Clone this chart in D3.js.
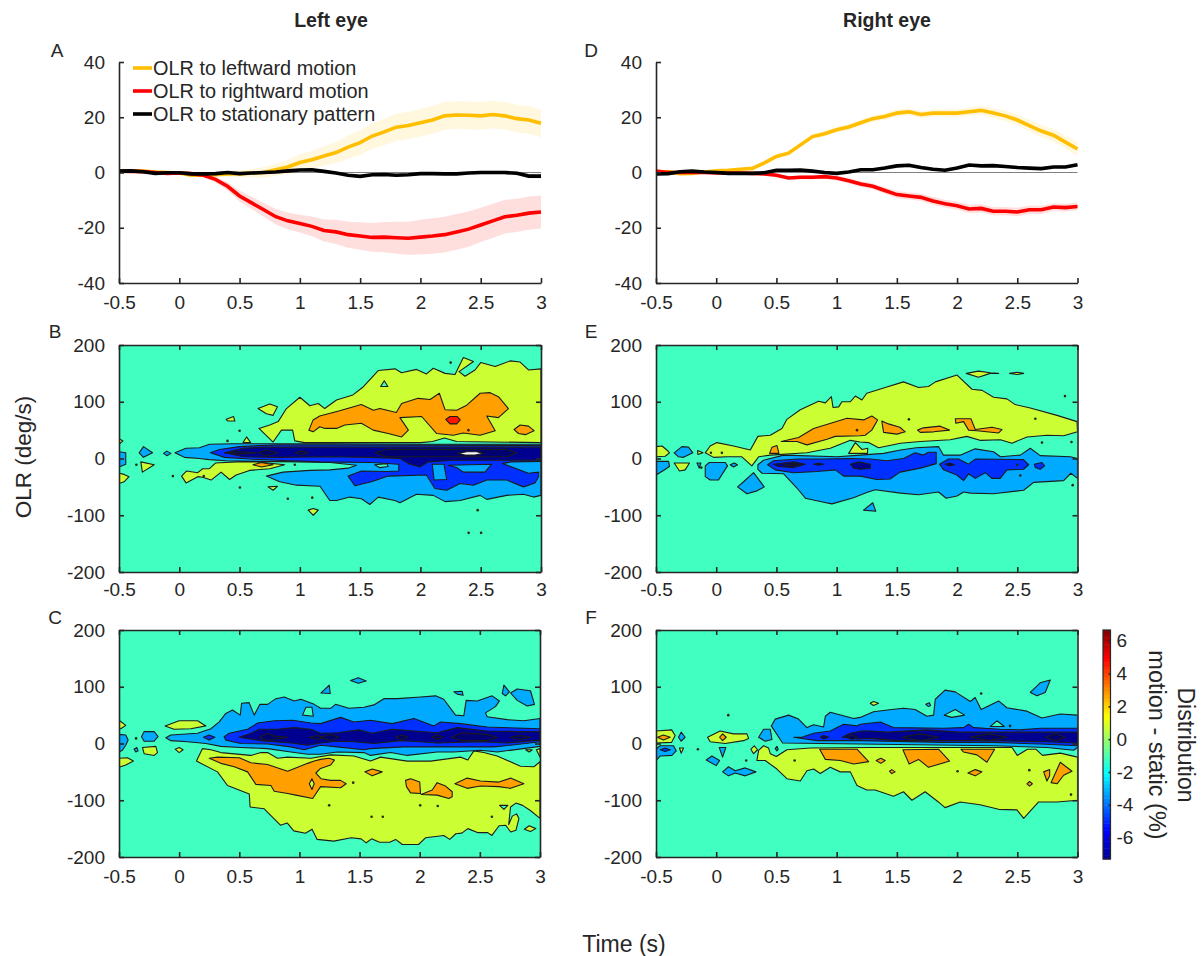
<!DOCTYPE html>
<html>
<head>
<meta charset="utf-8">
<title>OLR distribution</title>
<script src="https://cdn.jsdelivr.net/npm/d3@7"></script>
<style>
  html, body { margin: 0; background: #fff; }
  text { font-family: "Liberation Sans", Arial, sans-serif; fill: #262626; }
</style>
</head>
<body>
<svg id="chart" width="1203" height="956"></svg>
<script>
/* ---------- OLR time courses (panels A and D), sampled every 0.1 s ---------- */
const times = [-0.5,-0.4,-0.3,-0.2,-0.1,0,0.1,0.2,0.3,0.4,0.5,0.6,0.7,0.8,0.9,1,1.1,1.2,1.3,1.4,1.5,1.6,1.7,1.8,1.9,2,2.1,2.2,2.3,2.4,2.5,2.6,2.7,2.8,2.9,3];

const aLeftward = [0.5,0.5,0.5,0.2,0,-0.2,-1,-1,-0.8,-0.5,-0.5,-0.2,0,1,2,3.6,4.6,6,7.2,9.2,10.8,13.2,14.7,16.4,17,18,19,20.5,20.8,20.7,20.5,21,20.5,19.5,19,17.8];
const aLeftwardErr = [0.3,0.3,0.3,0.3,0.3,0.3,0.4,0.6,0.8,1,1.2,1.5,2,2.2,2.5,3,3.2,3.5,3.8,4.2,4.5,4.6,4.8,4.9,5,5,5,5,5,5,5,5,5,5,5,5];
const aRightward = [0.5,0.4,0.3,0,-0.3,-0.2,-0.4,-1,-2.5,-5,-8.5,-11,-13.5,-16,-17.5,-18.5,-19.5,-21,-21.5,-22.5,-23,-23.5,-23.4,-23.6,-23.8,-23.4,-23,-22.5,-21.5,-20.5,-19,-17.5,-16,-15.5,-14.7,-14.3];
const aRightwardErr = [0.2,0.2,0.2,0.2,0.2,0.3,0.4,0.6,1,1.5,2,2.2,2.5,2.8,3,3.2,3.6,4,4.4,4.7,5,5.2,5.5,5.8,6,6.3,6.4,6.5,6.5,6.4,6.2,6.2,6.1,6,6,6];
const aStatic = [0.5,0.6,0.3,-0.3,-0.1,-0.1,-0.5,-0.5,-0.4,0,-0.4,-0.2,0,0.2,0.6,0.9,1,0.4,-0.2,-1,-1.4,-0.8,-0.7,-1,-0.8,-0.4,-0.4,-0.5,-0.5,-0.2,0,0,0,-0.3,-1.3,-1.3];
const aStaticErr = [0.2,0.2,0.2,0.2,0.2,0.2,0.2,0.2,0.3,0.3,0.3,0.3,0.3,0.3,0.3,0.4,0.4,0.4,0.4,0.4,0.5,0.5,0.5,0.5,0.5,0.5,0.5,0.5,0.5,0.5,0.6,0.6,0.6,0.7,0.8,0.9];

const dLeftward = [0,0.3,-0.4,-0.3,0.2,0.6,0.8,1.2,1.5,3.5,5.8,7,10,13,14,15.5,16.5,18,19.5,20.3,21.5,22,21,21.5,21.5,21.5,22,22.5,21.5,20.5,19,17,15,13.5,11,8.5];
const dLeftwardErr = [0.3,0.3,0.3,0.3,0.3,0.3,0.4,0.4,0.5,0.6,0.7,0.8,0.9,1,1,1,1.1,1.1,1.2,1.2,1.3,1.3,1.3,1.3,1.4,1.4,1.5,1.7,1.8,1.9,2,2.1,2.2,2.3,2.4,2.5];
const dRightward = [0.5,0,0,0,0,-0.2,-0.2,-0.2,-0.3,-0.5,-1,-2,-1.7,-1.7,-1.5,-2,-3,-4.2,-5,-6.5,-8,-8.5,-9,-10.3,-11.3,-12,-13.2,-13,-14,-14,-14.3,-13.5,-13.5,-12.5,-12.7,-12.3];
const dRightwardErr = [0.3,0.3,0.3,0.3,0.3,0.3,0.3,0.3,0.3,0.4,0.5,0.6,0.7,0.8,0.8,0.9,1,1,1.1,1.2,1.3,1.3,1.3,1.4,1.4,1.5,1.5,1.5,1.5,1.5,1.5,1.5,1.5,1.4,1.4,1.4];
const dStatic = [-0.5,-0.4,0.3,0.5,0.2,0,-0.3,-0.3,-0.3,-0.1,0.8,0.8,0.9,0.5,0,-0.3,0.2,1,1,1.6,2.4,2.6,1.8,1.2,0.8,1.6,2.7,2.4,2.5,2.2,1.8,1.6,1.4,2,2,2.8];
const dStaticErr = [0.2,0.2,0.2,0.2,0.2,0.2,0.2,0.2,0.2,0.3,0.3,0.3,0.3,0.3,0.4,0.4,0.4,0.5,0.5,0.6,0.7,0.7,0.6,0.6,0.6,0.5,0.5,0.5,0.5,0.5,0.5,0.5,0.5,0.5,0.5,0.5];

const legendLabels = ["OLR to leftward motion", "OLR to rightward motion", "OLR to stationary pattern"];

/* ---------- axis ticks ---------- */
const timeTicks = [-0.5,0,0.5,1,1.5,2,2.5,3];
const lineTicks = [-40,-20,0,20,40];
const olrTicks = [-200,-100,0,100,200];
const barTicks = [-6,-4,-2,0,2,4,6];

/* ---------- contour outlines, [time, OLR] ---------- */

// panel B
const bLight = [[-0.036,10],[0.056,18],[0.167,19],[0.25,25],[0.444,26],[1.25,26],[2.0,25],[3,25],[3,-65],[2.938,-68],[2.855,-63],[2.716,-65],[2.55,-72],[2.495,-65],[2.329,-74],[2.204,-76],[2.107,-65],[1.968,-63],[1.83,-78],[1.788,-74],[1.65,-68],[1.58,-81],[1.511,-71],[1.414,-68],[1.304,-74],[1.248,-74],[1.167,-49],[0.972,-47],[0.833,-41],[0.722,-31],[0.861,-24],[1.083,-21],[1.25,-20],[1.4,-17],[1.47,-12],[1.25,-7],[1.0,-6],[0.6,-5],[0.389,-4],[0.25,-2],[0.167,0],[0.042,2]];
const bBlue = [[0.258,10],[0.333,16],[0.5,21],[0.806,24],[1.25,24],[3,23],[3,-5],[2.75,-6],[2.68,-9],[2.896,-26],[2.98,-24],[2.98,-32],[2.95,-43],[2.855,-50],[2.716,-38],[2.55,-38],[2.44,-47],[2.329,-44],[2.218,-56],[2.12,-53],[2.05,-29],[1.733,-31],[1.594,-41],[1.456,-48],[1.4,-31],[1.511,-22],[1.72,-23],[1.82,-22],[1.82,-10],[1.6,-7],[1.165,-6],[0.806,-3],[0.583,-1],[0.375,2]];
const bHole1 = [[2.098,-10],[2.195,-10],[2.218,-37],[2.113,-38]];
const bHole2 = [[2.23,-12],[2.59,-10],[2.536,-24],[2.356,-24],[2.3,-16]];
const bHole3 = [[1.62,-11],[1.72,-9],[1.733,-14],[1.66,-16]];
const bNavy = [[0.375,10],[0.528,18],[0.722,20],[1.25,20],[3,20],[3,-3],[2.273,-3],[2.065,-6],[1.996,-15],[1.9,-9],[1.83,0],[1.58,2],[1.25,3],[0.806,2],[0.528,3]];
const bDark1 = [[1.622,10],[1.72,16],[2.716,16],[2.8,10],[2.716,3],[1.72,3]];
const bDark2 = [[0.653,10],[0.722,15],[0.819,10],[0.722,5]];
const bDark3 = [[0.958,10],[1.014,13],[1.069,10],[1.014,7]];
const bDark4 = [[0.375,10],[0.5,12],[0.639,10],[0.5,8]];
const bWhite = [[2.309,9],[2.384,12],[2.467,12],[2.522,9],[2.453,6],[2.37,6]];
const bYellowUp = [[0.661,53],[0.75,59],[0.82,65],[0.889,88],[1,108],[1.083,93],[1.153,97],[1.206,88],[1.304,103],[1.44,112],[1.525,126],[1.65,155],[1.79,158],[1.843,151],[1.968,157],[2.05,149],[2.107,159],[2.204,150],[2.287,148],[2.356,178],[2.44,171],[2.32,153],[2.37,145],[2.453,156],[2.5,169],[2.62,162],[2.744,172],[2.827,170],[2.896,156],[3,158],[3,28],[2.3,30],[2.2,36],[2.1,30],[2.0,28],[1.04,28],[0.958,31],[0.94,50],[0.847,50],[0.778,29]];
const bTealIsle = [[1.7,137],[1.73,127],[1.67,127]];
const bOrange = [[1.075,50],[1.11,68],[1.165,75],[1.33,84],[1.51,95],[1.61,85],[1.664,88],[1.8,81],[1.844,97],[1.98,106],[2.08,104],[2.157,115],[2.204,86],[2.3,85],[2.384,94],[2.495,115],[2.578,116],[2.647,109],[2.73,88],[2.647,72],[2.55,75],[2.62,49],[2.495,41],[2.356,45],[2.273,41],[2.135,44],[2.01,74],[1.83,72],[1.9,50],[1.844,38],[1.733,44],[1.608,50],[1.51,62],[1.373,59],[1.304,53],[1.207,53],[1.165,56],[1.11,47]];
const bRed = [[2.21,69],[2.245,74],[2.306,74],[2.33,68],[2.3,61],[2.245,61]];
const bOrange2 = [[2.777,51],[2.827,59],[2.896,57],[2.943,49],[2.87,42],[2.813,44]];
const bYellow1 = [[0.653,88],[0.75,96],[0.814,91],[0.778,76],[0.722,79]];
const bYellow2 = [[0.389,69],[0.45,74],[0.461,66],[0.403,66]];
const bYellow3 = [[0.528,28],[0.558,38],[0.592,28]];
const bYellow4 = [[-0.5,35],[-0.467,31],[-0.5,25]];
const bYellow5 = [[-0.5,-26],[-0.458,-28],[-0.417,-32],[-0.458,-41],[-0.5,-44]];
const bLight2 = [[-0.5,12],[-0.444,10],[-0.444,-10],[-0.5,-15]];
const bLight3 = [[-0.333,10],[-0.297,21],[-0.222,10],[-0.297,2]];
const bYellow6 = [[-0.319,-6],[-0.208,-11],[-0.306,-24]];
const bLight4 = [[-0.131,9],[-0.103,13],[-0.069,9],[-0.103,5]];
const bTongue = [[0.019,-31],[0.061,-22],[0.153,-25],[0.194,-18],[0.25,-18],[0.3,-8],[0.472,-6],[0.639,-6],[0.875,-11],[0.75,-18],[0.583,-21],[0.472,-29],[0.417,-37],[0.347,-24],[0.264,-38],[0.194,-33],[0.153,-32],[0.056,-43]];
const bTongueSpot = [[0.611,-11],[0.681,-7],[0.778,-11],[0.681,-15]];
const bYellow7 = [[0.736,-50],[0.814,-49],[0.778,-56]];
const bYellow8 = [[1.069,-91],[1.111,-88],[1.153,-91],[1.111,-100]];
const bSpecks = [[2.398,50],[0.5,49],[0.4,31],[-0.356,-11],[-0.053,-31],[0.203,-31],[0.503,-51],[0.9,-71],[1.103,-69],[2.251,169],[2.475,-91],[2.503,-131],[2.4,-131],[0.958,-11]];
const panelB = [[-1,bLight],[-2,bBlue],[-1,bHole1],[-1,bHole2],[0,bHole3],[-3,bNavy],[-4,bDark1],[-4,bDark2],[-4,bDark3],[-4,bDark4],[9,bWhite],
  [1,bYellowUp],[0,bTealIsle],[2,bOrange],[3,bRed],[2,bOrange2],[1,bYellow1],[1,bYellow2],[1,bYellow3],[1,bYellow4],[1,bYellow5],[-1,bLight2],[-1,bLight3],[1,bYellow6],[-1,bLight4],[1,bTongue],[2,bTongueSpot],[1,bYellow7],[1,bYellow8]];

// panel E
const eYellow = [[-0.091,10],[-0.05,22],[0.006,28],[0.144,22],[0.283,15],[0.346,39],[0.449,41],[0.546,53],[0.587,69],[0.698,86],[0.85,101],[0.906,98],[0.956,109],[0.97,90],[1.017,91],[1.044,100],[1.114,100],[1.155,110],[1.21,103],[1.25,115],[1.417,126],[1.555,135],[1.68,125],[1.763,127],[1.82,135],[2,147],[2.124,122],[2.208,120],[2.303,108],[2.414,105],[2.483,95],[2.608,89],[2.83,76],[2.996,65],[3,47],[2.885,40],[2.747,41],[2.58,38],[2.456,27],[2.36,33],[2.19,32],[2.08,39],[1.943,33],[1.694,30],[1.53,27],[1.348,19],[1.265,28],[1.195,29],[1.114,32],[0.947,18],[0.753,10],[0.449,6],[0.352,3],[0.296,-13],[0.213,3],[0.089,3],[-0.022,2]];
const eTriangle = [[1.1,9],[1.155,28],[1.21,16],[1.258,18],[1.256,9]];
const eYellowL = [[-0.5,21],[-0.45,22],[-0.41,15],[-0.388,10],[-0.424,4],[-0.5,3]];
const eDiamond = [[-0.349,10],[-0.285,21],[-0.23,20],[-0.194,10],[-0.271,2],[-0.313,3]];
const eYellowS = [[-0.155,14],[-0.11,10],[-0.152,7]];
const eOrangeS = [[0.443,9],[0.463,20],[0.504,23],[0.521,9]];
const eOrange1 = [[0.54,30],[0.684,37],[0.809,53],[1.086,71],[1.224,68],[1.292,75],[1.34,68],[1.292,50],[1.237,41],[1.195,40],[0.989,39],[0.92,34],[0.753,24],[0.67,30]];
const eOrange2 = [[1.375,66],[1.43,61],[1.525,55],[1.57,47],[1.5,43],[1.39,46]];
const eOrange3 = [[1.672,50],[1.72,54],[1.86,57],[1.938,50],[1.805,47],[1.694,46]];
const eOrange4 = [[1.985,70],[2.115,70],[2.151,51],[2.29,55],[2.373,51],[2.345,45],[2.165,49],[2.096,50],[2.054,65],[1.99,62]];
const eTop1 = [[2.076,150],[2.178,154],[2.275,151],[2.345,150],[2.275,150],[2.178,143]];
const eTop2 = [[2.436,150],[2.5,152],[2.553,150],[2.5,148]];
const eLeftBlue = [[-0.5,-5],[-0.395,-5],[-0.388,-14],[-0.438,-21],[-0.5,-29]];
const eYellowB = [[-0.349,-8],[-0.222,-8],[-0.258,-20],[-0.305,-22]];
const eBlueS = [[-0.16,-8],[-0.127,-8],[-0.141,-17]];
const eBlob1 = [[-0.091,-13],[-0.058,-7],[0.075,-7],[0.094,-13],[0.019,-38],[-0.05,-38],[-0.091,-32]];
const eBlob2 = [[0.116,-11],[0.15,-8],[0.177,-11],[0.144,-15]];
const eBlob3 = [[0.177,-50],[0.227,-41],[0.31,-25],[0.399,-50],[0.338,-57],[0.255,-62]];
const eLight = [[0.346,-11],[0.393,-3],[0.56,6],[1.003,3],[1.195,6],[1.39,9],[1.53,15],[1.66,19],[1.846,21],[1.886,6],[2.03,6],[2.15,17],[2.303,12],[2.36,3],[2.525,6],[2.608,18],[2.69,5],[2.94,3],[3,0],[3,-35],[2.945,-26],[2.885,-39],[2.636,-42],[2.553,-56],[2.303,-62],[2.11,-61],[2.054,-59],[2,-66],[1.91,-70],[1.846,-59],[1.68,-64],[1.53,-61],[1.32,-55],[1.25,-60],[1.14,-69],[0.961,-80],[0.892,-77],[0.74,-70],[0.67,-52],[0.56,-27],[0.38,-26],[0.346,-19]];
const eBlob4 = [[1.223,-91],[1.3,-78],[1.325,-93]];
const eBlue1 = [[0.427,-11],[0.476,-4],[0.67,-1],[0.892,-1],[1.114,0],[1.28,-1],[1.417,-4],[1.555,0],[1.652,10],[1.721,6],[1.763,11],[1.827,11],[1.827,-9],[1.694,-17],[1.527,-24],[1.444,-36],[1.333,-37],[1.195,-31],[1.058,-31],[0.989,-20],[0.837,-23],[0.643,-25],[0.49,-20]];
const eBlue2 = [[1.854,-10],[1.929,-1],[2.012,-1],[2.095,-10],[2.151,-1],[2.552,-2],[2.594,-11],[2.552,-19],[2.414,-20],[2.358,-35],[2.289,-35],[2.234,-25],[2.151,-35],[2.095,-27],[2.054,-39],[1.998,-29],[1.888,-20]];
const eBlue3 = [[2.641,-10],[2.705,-7],[2.727,-13],[2.69,-19],[2.65,-16]];
const eNavy1 = [[0.476,-10],[0.643,-6],[0.74,-10],[0.643,-16],[0.518,-14]];
const eNavy2 = [[0.81,-10],[0.85,-8],[0.892,-10],[0.85,-12]];
const eNavy3 = [[1.114,-10],[1.183,-6],[1.28,-10],[1.28,-17],[1.197,-19],[1.141,-17]];
const eNavy4 = [[1.9,-10],[1.943,-8],[1.979,-11],[1.937,-13]];
const eDark1 = [[0.56,-11],[0.65,-9],[0.7,-11],[0.65,-13]];
const eSpecks = [[-0.044,10],[0.047,10],[1.169,50],[1.6,69],[2.65,70],[2.896,110],[2.705,28],[2.95,29],[2.5,-11],[2.525,-30],[2.96,-47],[-0.124,-16]];
const panelE = [[1,eYellow],[1,eTriangle],[1,eYellowL],[-1,eDiamond],[1,eYellowS],[2,eOrangeS],[2,eOrange1],[2,eOrange2],[2,eOrange3],[2,eOrange4],[1,eTop1],[1,eTop2],
  [-1,eLeftBlue],[1,eYellowB],[-1,eBlueS],[-1,eBlob1],[-1,eBlob2],[-1,eBlob3],[-1,eLight],[-1,eBlob4],[-2,eBlue1],[-2,eBlue2],[-2,eBlue3],[-3,eNavy1],[-3,eNavy2],[-3,eNavy3],[-3,eNavy4],[-4,eDark1]];

// panel C
const cYellow = [[0.144,-31],[0.194,-9],[0.264,-11],[0.347,-16],[0.596,-21],[0.68,-16],[0.735,-16],[0.818,-26],[0.9,-24],[1.096,-26],[1.26,-20],[1.453,-22],[1.591,-31],[1.675,-24],[1.896,-31],[2.09,-31],[2.339,-24],[2.4,-29],[2.45,-13],[2.533,-16],[2.644,-22],[2.838,-40],[2.949,-41],[3,-32],[3,-132],[2.92,-118],[2.855,-109],[2.8,-105],[2.755,-112],[2.74,-143],[2.77,-128],[2.805,-124],[2.825,-132],[2.8,-153],[2.756,-156],[2.715,-144],[2.66,-145],[2.6,-162],[2.565,-157],[2.48,-157],[2.4,-150],[2.35,-158],[2.3,-159],[2.25,-169],[2.2,-162],[2.05,-166],[1.99,-178],[1.855,-178],[1.8,-169],[1.75,-174],[1.666,-174],[1.6,-168],[1.555,-175],[1.513,-168],[1.43,-166],[1.286,-172],[1.147,-169],[1.105,-151],[1.05,-158],[0.953,-154],[0.898,-140],[0.842,-144],[0.707,-115],[0.59,-112],[0.583,-89],[0.402,-74],[0.319,-50]];
const cOrange1 = [[0.25,-26],[0.319,-24],[0.5,-25],[0.596,-34],[0.735,-37],[0.902,-49],[1.068,-35],[1.123,-31],[1.176,-28],[1.245,-26],[1.292,-29],[1.259,-38],[1.176,-44],[1.137,-52],[1.179,-62],[1.259,-65],[1.342,-65],[1.389,-71],[1.342,-78],[1.176,-76],[1.11,-97],[0.971,-91],[0.902,-88],[0.79,-84],[0.763,-74],[0.638,-72],[0.569,-50],[0.458,-41],[0.347,-35]];
const cDiamond = [[1.104,-62],[1.082,-71],[1.104,-81],[1.123,-71]];
const cOrange2 = [[1.544,-50],[1.605,-45],[1.688,-50],[1.605,-57]];
const cOrange3 = [[1.882,-65],[1.924,-62],[2,-68],[2.007,-88],[1.924,-87],[1.89,-76]];
const cOrange4 = [[2.012,-90],[2.104,-82],[2.145,-69],[2.215,-75],[2.27,-85],[2.27,-94],[2.242,-97],[2.145,-91]];
const cOrange5 = [[2.292,-71],[2.395,-61],[2.505,-66],[2.658,-68],[2.755,-61],[2.866,-71],[2.755,-79],[2.658,-76],[2.505,-75],[2.395,-79]];
const cYellowR1 = [[2.88,-11],[2.935,-11],[2.91,-15]];
const cYellowR2 = [[2.97,-11],[3,-9],[3,-24]];
const cYellowR3 = [[2.87,-151],[2.91,-145],[2.965,-150],[2.92,-155]];
const cTealR = [[2.664,-109],[2.733,-109],[2.7,-116]];
const cYellowL1 = [[-0.5,41],[-0.444,32],[-0.485,26],[-0.5,26]];
const cBlueL1 = [[-0.5,16],[-0.444,15],[-0.424,6],[-0.444,-3],[-0.472,-12],[-0.5,-15]];
const cBlueL2 = [[-0.313,12],[-0.291,21],[-0.208,21],[-0.175,12],[-0.208,4],[-0.291,4]];
const cBlueL3 = [[-0.375,-10],[-0.352,-7],[-0.341,-13],[-0.36,-15]];
const cYellowL2 = [[-0.305,-7],[-0.194,-5],[-0.18,-16],[-0.208,-21],[-0.291,-18]];
const cYellowL3 = [[-0.033,-10],[0,-7],[0.033,-11],[0,-16]];
const cYellowL4 = [[-0.5,-26],[-0.43,-25],[-0.38,-31],[-0.444,-38],[-0.5,-42]];
const cYellowL5 = [[-0.117,31],[0,40],[0.153,40],[0.222,31],[0.097,26],[-0.042,25]];
const cLight = [[-0.111,10],[-0.069,15],[0.153,18],[0.264,26],[0.333,38],[0.388,53],[0.444,59],[0.508,50],[0.519,71],[0.582,72],[0.624,50],[0.671,69],[0.735,69],[0.804,79],[0.874,82],[0.957,75],[1.012,78],[1.123,69],[1.176,62],[1.259,62],[1.3,69],[1.411,62],[1.536,64],[1.619,68],[1.702,79],[1.813,79],[2.007,82],[2.132,84],[2.2,78],[2.298,50],[2.367,49],[2.386,76],[2.478,75],[2.602,84],[2.663,75],[2.63,65],[2.547,54],[2.561,47],[2.727,42],[2.866,40],[3,44],[3,-5],[2.644,-15],[2.506,-12],[2.284,-15],[2.145,-15],[1.896,-21],[1.758,-16],[1.591,-21],[1.536,-16],[1.314,-15],[1.176,-19],[1.068,-19],[0.929,-15],[0.735,-9],[0.513,-7],[0.347,-5],[0.222,0],[0.069,3],[-0.069,5]];
const cTealHole = [[1.026,50],[1.054,64],[1.104,64],[1.115,48]];
const cBlueDot = [[0.202,11],[0.25,15],[0.297,11],[0.25,6]];
const cBlue = [[0.374,12],[0.416,18],[0.569,25],[0.652,36],[0.79,40],[0.943,41],[1.096,36],[1.176,35],[1.342,46],[1.453,38],[1.591,41],[1.771,35],[1.952,44],[2.118,31],[2.173,38],[2.339,35],[2.561,29],[3,26],[3,3],[2.755,-3],[2.616,-6],[2.284,-6],[1.868,-6],[1.591,-9],[1.536,-11],[1.314,-6],[1.176,-3],[1.04,-11],[0.929,-6],[0.735,-1],[0.513,0],[0.388,6]];
const cNavy = [[0.499,11],[0.596,18],[0.666,25],[0.818,25],[0.957,28],[1.096,25],[1.176,18],[1.314,19],[1.494,24],[1.605,18],[1.771,25],[1.952,22],[2.145,19],[2.312,28],[2.561,22],[2.838,21],[3,21],[3,6],[2.727,1],[2.506,3],[2.145,1],[2.007,3],[1.841,5],[1.619,0],[1.453,3],[1.314,4],[1.176,1],[1.068,-3],[0.929,1],[0.68,5]];
const cDark1 = [[0.666,11],[0.735,18],[0.79,13],[0.902,11],[0.79,7],[0.735,5]];
const cDark2 = [[1.082,11],[1.151,14],[1.207,10],[1.151,7]];
const cDark3 = [[1.176,11],[1.259,16],[1.328,11],[1.259,5]];
const cDark4 = [[1.8,11],[1.849,15],[1.902,11],[1.849,7]];
const cDark5 = [[2.104,11],[2.145,15],[2.193,11],[2.145,7]];
const cDark6 = [[2.262,11],[2.353,19],[2.561,16],[2.644,11],[2.561,5],[2.353,5]];
const cDark7 = [[2.755,11],[2.83,14],[2.921,11],[2.83,7]];
const cIsle1 = [[1.179,89],[1.248,103],[1.256,88]];
const cIsle2 = [[1.425,111],[1.489,116],[1.555,110],[1.489,106]];
const cIsle3 = [[2.284,91],[2.353,92],[2.361,85],[2.312,87]];
const cIsle4 = [[2.686,88],[2.7,103],[2.746,91],[2.713,84]];
const cIsle5 = [[2.755,89],[2.81,96],[2.921,93],[2.954,69],[2.893,66],[2.81,76]];
const cSpecks = [[1.247,-109],[1.447,-69],[1.6,-129],[1.693,-129],[2.004,-109],[2.15,-110],[2.6,-129],[-0.358,9]];
const panelC = [[1,cYellow],[2,cOrange1],[1,cDiamond],[2,cOrange2],[2,cOrange3],[2,cOrange4],[2,cOrange5],[1,cYellowR1],[1,cYellowR2],[1,cYellowR3],[0,cTealR],
  [1,cYellowL1],[-1,cBlueL1],[-1,cBlueL2],[-1,cBlueL3],[1,cYellowL2],[1,cYellowL3],[1,cYellowL4],[1,cYellowL5],[-1,cLight],[0,cTealHole],[-2,cBlueDot],[-2,cBlue],[-3,cNavy],[-4,cDark1],[-4,cDark2],[-4,cDark3],[-4,cDark4],[-4,cDark5],[-4,cDark6],[-4,cDark7],[-1,cIsle1],[-1,cIsle2],[-1,cIsle3],[-1,cIsle4],[-1,cIsle5]];

// panel F
const fYellow = [[0.338,-30],[0.352,-12],[0.393,-4],[0.435,-8],[0.449,-18],[0.499,-23],[0.587,-11],[0.781,-8],[1.28,-7],[1.846,-7],[2.456,-7],[2.5,-21],[2.584,-10],[2.654,-10],[2.709,-21],[2.857,-17],[3,-24],[3,-100],[2.83,-103],[2.677,-103],[2.553,-132],[2.497,-117],[2.345,-116],[2.19,-108],[2.026,-103],[1.9,-113],[1.845,-103],[1.735,-85],[1.625,-100],[1.555,-85],[1.472,-93],[1.32,-82],[1.25,-82],[1.169,-74],[1.114,-50],[1.03,-50],[0.947,-42],[0.864,-53],[0.809,-45],[0.753,-48],[0.698,-66],[0.587,-62],[0.504,-45],[0.407,-30]];
const fOrange1 = [[0.859,-10],[1.169,-10],[1.266,-32],[1.141,-36],[1.03,-30],[0.906,-28]];
const fOrange2 = [[1.55,-11],[1.846,-10],[1.938,-31],[1.763,-42],[1.68,-28],[1.602,-36]];
const fOrange3 = [[2.032,-10],[2.312,-10],[2.248,-33],[2.165,-20],[2.054,-15]];
const fOrange4 = [[1.328,-30],[1.367,-26],[1.403,-30],[1.367,-35]];
const fOrange5 = [[1.439,-49],[1.458,-46],[1.486,-50],[1.458,-53]];
const fOrange6 = [[2.09,-52],[2.151,-46],[2.206,-50],[2.151,-57]];
const fOrange7 = [[2.58,-71],[2.602,-67],[2.625,-71],[2.602,-75]];
const fOrange8 = [[2.719,-50],[2.769,-46],[2.769,-57],[2.746,-66]];
const fOrange9 = [[2.78,-69],[2.857,-33],[2.954,-49],[2.885,-56],[2.83,-71]];
const fYellowL = [[-0.5,22],[-0.37,24],[-0.341,14],[-0.37,2],[-0.5,1]];
const fOrangeL = [[-0.488,11],[-0.438,15],[-0.382,11],[-0.438,6]];
const fBlueL = [[-0.5,-10],[-0.465,-4],[-0.355,-4],[-0.332,-13],[-0.368,-21],[-0.465,-22],[-0.5,-30]];
const fBlueLi = [[-0.465,-11],[-0.424,-8],[-0.382,-11],[-0.424,-14]];
const fBlueS = [[-0.313,11],[-0.291,20],[-0.258,11],[-0.291,4]];
const fYellowS = [[-0.305,-8],[-0.271,-8],[-0.291,-17]];
const fYellowM = [[-0.072,11],[0.033,22],[0.144,17],[0.255,17],[0.269,9],[0.227,5],[0.075,0],[-0.05,3]];
const fOrangeM = [[0.028,11],[0.053,17],[0.083,11],[0.053,5]];
const fBlue1 = [[0.025,-7],[0.08,-7],[0.053,-24]];
const fBlue2 = [[-0.083,-29],[-0.036,-22],[0.028,-30],[0,-39]];
const fBlue3 = [[0.053,-50],[0.102,-41],[0.158,-48],[0.241,-43],[0.33,-50],[0.241,-57],[0.158,-52],[0.102,-57]];
const fYellowT = [[0.288,-10],[0.316,-4],[0.343,-11],[0.31,-18]];
const fBlue4 = [[0.352,11],[0.393,25],[0.449,25],[0.463,7],[0.407,4]];
const fBlue5 = [[0.49,-9],[0.504,-5],[0.515,-10],[0.504,-13]];
const fLight = [[0.457,31],[0.49,43],[0.601,50],[0.684,43],[0.753,28],[0.809,33],[0.892,29],[0.906,48],[0.947,55],[1.141,44],[1.195,46],[1.306,56],[1.458,60],[1.555,62],[1.652,60],[1.75,48],[1.805,50],[1.819,78],[1.9,94],[1.985,91],[2.11,74],[2.15,81],[2.2,60],[2.345,75],[2.414,63],[2.58,57],[2.705,45],[2.857,52],[3,50],[3,-7],[2.968,-12],[2.747,-7],[2.3,-4],[1.195,-1],[0.551,1]];
const fHole1 = [[1.893,50],[1.985,60],[2.062,50],[1.956,46]];
const fHole2 = [[2.276,30],[2.331,40],[2.392,30]];
const fIsle1 = [[1.74,69],[1.77,72],[1.78,67],[1.763,65]];
const fIsle2 = [[2.608,90],[2.69,107],[2.774,112],[2.732,90],[2.663,84]];
const fIsle3 = [[1.279,71],[1.306,74],[1.348,71],[1.306,67]];
const fBlue = [[0.643,11],[0.712,11],[0.809,18],[0.947,22],[1.058,34],[1.169,31],[1.195,34],[1.362,38],[1.472,28],[1.888,27],[2.054,28],[2.096,34],[2.137,28],[2.359,25],[2.525,24],[2.691,27],[3,27],[3,-4],[2.691,-1],[2.303,2],[1.888,2],[1.195,5],[0.837,5]];
const fNavy = [[1.044,11],[1.114,18],[1.21,22],[1.28,22],[1.417,20],[1.75,24],[2.026,20],[2.47,20],[3,20],[3,1],[2.747,3],[2.303,5],[1.5,5],[1.28,9],[1.169,8]];
const fNavyS = [[0.864,11],[0.892,14],[0.934,11],[0.892,8]];
const fDark1 = [[1.542,11],[1.694,17],[1.846,11],[1.694,5]];
const fDark2 = [[2.11,11],[2.262,17],[2.414,11],[2.262,5]];
const fDark3 = [[2.733,11],[2.816,17],[2.899,11],[2.816,5]];
const fDark4 = [[1.085,11],[1.127,15],[1.169,11],[1.127,7]];
const fSpecks = [[2.004,-49],[2.946,-90],[2.2,88],[0.651,-30],[0.249,-30],[0.1,50],[-0.152,-10],[2.44,31],[2.6,-47]];
const panelF = [[1,fYellow],[2,fOrange1],[2,fOrange2],[2,fOrange3],[2,fOrange4],[2,fOrange5],[2,fOrange6],[2,fOrange7],[2,fOrange8],[2,fOrange9],
  [1,fYellowL],[2,fOrangeL],[-1,fBlueL],[-2,fBlueLi],[-1,fBlueS],[1,fYellowS],[1,fYellowM],[2,fOrangeM],[-1,fBlue1],[-1,fBlue2],[-1,fBlue3],[1,fYellowT],[-1,fBlue4],[-1,fBlue5],[-1,fLight],[0,fHole1],[0,fHole2],[-1,fIsle1],[-1,fIsle2],[1,fIsle3],[-2,fBlue],[-3,fNavy],[-3,fNavyS],[-4,fDark1],[-4,fDark2],[-4,fDark3],[-4,fDark4]];

/* ---------- colours of the filled levels ---------- */
const bandColors = new Map([[0,"#40ffc0"],[1,"#ccff33"],[2,"#ffa000"],[3,"#ff1400"],[-1,"#00aaff"],[-2,"#0030ff"],[-3,"#000090"],[-4,"#000070"],[9,"#ffffff"]]);
const jet = d3.scaleLinear()
    .domain([0,0.125,0.375,0.625,0.875,1])
    .range(["#00008f","#0000ff","#00ffff","#ffff00","#ff0000","#800000"]);

/* ---------- layout ---------- */
const axisColor = "#262626";
const tickFont = 19;
const svg = d3.select("#chart");

function styleAxis(g, labels) {
    g.selectAll("path.domain").attr("stroke", axisColor).attr("stroke-width", 1.6);
    g.selectAll(".tick line").attr("stroke", axisColor).attr("stroke-width", 1.6);
    g.selectAll("text").attr("font-size", tickFont).attr("fill", axisColor)
        .attr("font-family", '"Liberation Sans", Arial, sans-serif');
    if (!labels) g.selectAll("text").remove();
}

function timeAxes(x0, x1, y0, y1, yDomain, yTicks, boxed, xPad) {
    const x = d3.scaleLinear().domain([-0.5, 3]).range([x0, x1]);
    const y = d3.scaleLinear().domain(yDomain).range([y1, y0]);
    const draw = () => {
        svg.append("g").attr("transform", `translate(0,${y1})`)
            .call(d3.axisBottom(x).tickValues(timeTicks).tickFormat(String).tickSizeOuter(0).tickSizeInner(-5).tickPadding(xPad))
            .call(styleAxis, true);
        svg.append("g").attr("transform", `translate(${x0},0)`)
            .call(d3.axisLeft(y).tickValues(yTicks).tickFormat(String).tickSizeOuter(0).tickSizeInner(-5).tickPadding(14))
            .call(styleAxis, true);
        if (boxed) {
            svg.append("g").attr("transform", `translate(0,${y0})`)
                .call(d3.axisTop(x).tickValues(timeTicks).tickSizeOuter(0).tickSizeInner(-5))
                .call(styleAxis, false);
            svg.append("g").attr("transform", `translate(${x1},0)`)
                .call(d3.axisRight(y).tickValues(yTicks).tickSizeOuter(0).tickSizeInner(-5))
                .call(styleAxis, false);
        }
    };
    return { x, y, draw };
}

function drawLines(x0, x1, series) {
    const { x, y, draw } = timeAxes(x0, x1, 62, 283, [-40, 40], lineTicks, false, 13);
    svg.append("line").attr("x1", x(-0.5)).attr("x2", x(3)).attr("y1", y(0)).attr("y2", y(0))
        .attr("stroke", "#808080").attr("stroke-width", 1);
    const band = d3.area().x((d, i) => x(times[i]));
    const line = d3.line().x((d, i) => x(times[i])).y(d => y(d));
    series.forEach(s => {
        svg.append("path")
            .attr("d", band.y0((d, i) => y(d - s.err[i])).y1((d, i) => y(d + s.err[i]))(s.mean))
            .attr("fill", s.color).attr("fill-opacity", 0.13);
    });
    series.forEach(s => {
        svg.append("path").attr("d", line(s.mean)).attr("fill", "none")
            .attr("stroke", s.color).attr("stroke-width", 3.6);
    });
    draw();
}

function drawContours(id, x0, x1, y0, y1, xPad, shapes, specks) {
    const { x, y, draw } = timeAxes(x0, x1, y0, y1, [-200, 200], olrTicks, true, xPad);
    svg.append("clipPath").attr("id", id).append("rect")
        .attr("x", x0).attr("y", y0).attr("width", x1 - x0).attr("height", y1 - y0);
    const g = svg.append("g").attr("clip-path", `url(#${id})`);
    g.append("rect").attr("x", x0).attr("y", y0).attr("width", x1 - x0).attr("height", y1 - y0)
        .attr("fill", bandColors.get(0));
    const outline = d3.line().x(d => x(d[0])).y(d => y(d[1])).curve(d3.curveLinearClosed);
    g.selectAll("path.level").data(shapes).join("path")
        .attr("class", "level")
        .attr("d", d => outline(d[1]))
        .attr("fill", d => bandColors.get(d[0]))
        .attr("stroke", "#1c1c1c").attr("stroke-width", 1.1)
        .attr("stroke-linejoin", "round");
    g.selectAll("circle.speck").data(specks).join("circle")
        .attr("class", "speck")
        .attr("cx", d => x(d[0])).attr("cy", d => y(d[1]))
        .attr("r", 1.3).attr("fill", "#2a2a10");
    draw();
}

/* ---------- panels ---------- */
const colLeft = [119, 541];
const colRight = [656, 1077.5];

drawLines(colLeft[0], colLeft[1], [
    { mean: aLeftward, err: aLeftwardErr, color: "#ffbf00" },
    { mean: aRightward, err: aRightwardErr, color: "#ff0000" },
    { mean: aStatic, err: aStaticErr, color: "#000000" }
]);
drawLines(colRight[0], colRight[1], [
    { mean: dLeftward, err: dLeftwardErr, color: "#ffbf00" },
    { mean: dRightward, err: dRightwardErr, color: "#ff0000" },
    { mean: dStatic, err: dStaticErr, color: "#000000" }
]);

drawContours("clipB", colLeft[0], colLeft[1], 345, 572, 11, panelB, bSpecks);
drawContours("clipE", colRight[0], colRight[1], 345, 572, 11, panelE, eSpecks);
drawContours("clipC", colLeft[0], colLeft[1] - 1, 630, 857, 13, panelC, cSpecks);
drawContours("clipF", colRight[0], colRight[1], 630, 857, 13, panelF, fSpecks);

/* ---------- legend ---------- */
legendLabels.forEach((text, i) => {
    const ly = 68 + i * 23;
    svg.append("line").attr("x1", 133).attr("x2", 152).attr("y1", ly).attr("y2", ly)
        .attr("stroke", ["#ffbf00", "#ff0000", "#000000"][i]).attr("stroke-width", 3.6);
    svg.append("text").attr("x", 153).attr("y", ly).attr("dy", "0.35em")
        .attr("font-size", 19.9).text(text);
});

/* ---------- colour bar ---------- */
const barDomain = [-7.3, 6.65];
const barX = 1103, barW = 7.5;
const barY = d3.scaleLinear().domain(barDomain).range([859, 630]);
const barSteps = d3.range(64);
svg.append("g").selectAll("rect").data(barSteps).join("rect")
    .attr("x", barX).attr("width", barW)
    .attr("y", d => barY(barDomain[0] + (d + 1) / 64 * (barDomain[1] - barDomain[0])))
    .attr("height", 229 / 64 + 0.5)
    .attr("fill", d => jet((d + 0.5) / 64));
svg.append("rect").attr("x", barX).attr("y", 630).attr("width", barW).attr("height", 229)
    .attr("fill", "none").attr("stroke", axisColor).attr("stroke-width", 1.2);
svg.append("g").attr("transform", `translate(${barX + barW},0)`)
    .call(d3.axisRight(barY).tickValues(barTicks).tickFormat(String).tickSizeOuter(0).tickSizeInner(-2).tickPadding(6))
    .call(styleAxis, true)
    .select("path.domain").remove();

/* ---------- text ---------- */
function label(x, y, text, size, opts) {
    const o = opts || {};
    const t = svg.append("text").attr("font-size", size).attr("text-anchor", "middle")
        .attr("font-weight", o.bold ? "bold" : "normal").text(text);
    if (o.rotate) t.attr("transform", `translate(${x},${y}) rotate(${o.rotate})`);
    else t.attr("x", x).attr("y", y);
}
label(331, 27, "Left eye", 19.5, { bold: true });
label(887, 27, "Right eye", 19.5, { bold: true });
label(57, 57, "A", 19);
label(591, 57, "D", 19);
label(55, 338, "B", 19);
label(591, 338, "E", 19);
label(55, 624, "C", 19);
label(591, 624, "F", 19);
label(31, 457, "OLR (deg/s)", 22.5, { rotate: -90 });
label(624, 952, "Time (s)", 23);
label(1178, 745, "Distribution", 23, { rotate: 90 });
label(1149, 745, "motion - static (%)", 23.5, { rotate: 90 });
</script>
</body>
</html>
